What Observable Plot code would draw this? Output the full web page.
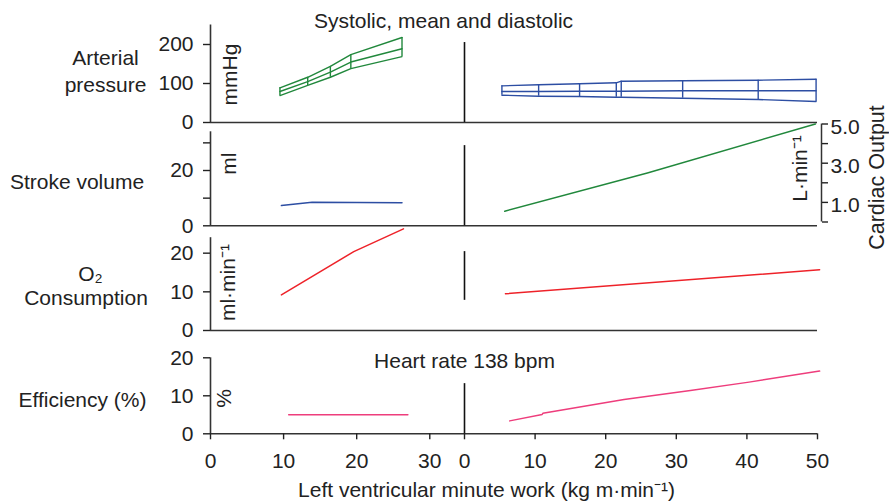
<!DOCTYPE html>
<html><head><meta charset="utf-8">
<script src="https://cdn.jsdelivr.net/npm/d3@7"></script>
<script src="https://cdn.jsdelivr.net/npm/@observablehq/plot@0.6"></script>
<style>
html,body{margin:0;padding:0;background:#fff;}
#chart{position:relative;width:889px;height:501px;overflow:hidden;background:#fff;}
#chart svg{position:absolute;left:0;top:0;}
</style></head><body><div id="chart"></div>
<script>
// ---- data ----
const pressureLeftX    = [9.5, 13.3, 16.4, 19.2, 26.2];
const pressureLeftSys  = [89, 116, 144, 174, 218];
const pressureLeftMean = [79.5, 105, 129, 155, 189];
const pressureLeftDia  = [69, 95, 116, 138, 169];
const pressureRightX    = [5.3, 10.5, 16.3, 21.5, 22.2, 30.9, 41.6, 49.8];
const pressureRightSys  = [94, 96.7, 99.2, 101.8, 105.9, 106.9, 108.5, 111];
const pressureRightMean = [79.5, 79.5, 80.3, 80.3, 80.3, 81.3, 81.3, 81.3];
const pressureRightDia  = [70, 67.4, 66.7, 64.9, 64.9, 62.3, 59, 53.8];
const strokeVolX = [9.7, 13.9, 26.2];
const strokeVol  = [7.3, 8.5, 8.3];
const cardiacOutX = [5.7, 25.9, 49.7];
const cardiacOut  = [0.55, 2.5, 5.0];
const o2LeftX = [9.7, 19.6, 26.4];
const o2Left  = [9.2, 20.4, 26.3];
const o2RightX = [5.8, 50.3];
const o2Right  = [9.5, 15.7];
const effLeftX = [10.7, 27.0];
const effLeft  = [5.0, 5.0];
const effRightX = [6.4, 11.0, 11.1, 22.6, 32.0, 40.3, 50.3];
const effRight  = [3.4, 5.1, 5.4, 9.0, 11.4, 13.6, 16.5];
const xTicksLeft  = [0, 10, 20, 30];
const xTicksRight = [0, 10, 20, 30, 40, 50];
const pressureTicks = [0, 100, 200];
const svTicks = [0, 10, 20, 30];
const svTickLabels = [0, 20];
const o2Ticks = [0, 10, 20];
const effTicks = [0, 10, 20];
const coTicks = [0, 1, 2, 3, 4, 5];
const coTickLabels = [1, 3, 5];
const dividerBottom = [0, 0, 7.8, 0];
const dividerTop = [205, 29, 20.4, 13.2];

// ---- layout ----
const W = 889, H = 501;
const FONT = "'Liberation Sans', Arial, Helvetica, sans-serif";
const GREEN = "#21883c", BLUE = "#2d4ea3", RED = "#ee2229", PINK = "#ee3d7c";
const INK = "#222";
const LEFT = {domain: [0, 34.75], px: [210, 464]};
const RIGHT = {domain: [0, 50], px: [464, 817]};
const P = [
  {domain: [0, 250], px: [122, 24.5]},
  {domain: [0, 34], px: [225.3, 131.3]},
  {domain: [0, 24], px: [330, 237.2]},
  {domain: [0, 20], px: [433.3, 357.3]}
];
const CO = {domain: [0, 5], px: [221.5, 123.5]};

const chart = document.getElementById("chart");
function overlay(xs, ys, marks) {
  const svg = Plot.plot({
    width: W, height: H,
    marginLeft: xs.px[0], marginRight: W - xs.px[1],
    marginTop: ys.px[1], marginBottom: H - ys.px[0],
    x: {domain: xs.domain, axis: null, label: null},
    y: {domain: ys.domain, axis: null, label: null},
    style: {fontFamily: FONT, fontSize: "21px", color: INK, background: "transparent", overflow: "visible"},
    marks
  });
  chart.appendChild(svg);
}
const rows = (xs, cols) => xs.map((x, i) => Object.fromEntries([["x", x], ...Object.entries(cols).map(([k, v]) => [k, v[i]])]));
const pl = rows(pressureLeftX, {sys: pressureLeftSys, mean: pressureLeftMean, dia: pressureLeftDia});
const pr = rows(pressureRightX, {sys: pressureRightSys, mean: pressureRightMean, dia: pressureRightDia});
const base = {stroke: "#333", strokeWidth: 1.6};
const axisStyle = {tickSize: 7, tickPadding: 10, anchor: "left", strokeWidth: 1.4, label: null};
function leftAxis(i, ticks, fmt) {
  return [
    Plot.ruleX([0], {y1: 0, y2: P[i].domain[1], stroke: "#333", strokeWidth: 1.6}),
    Plot.ruleY([0], base),
    Plot.axisY({...axisStyle, ticks, tickFormat: fmt || (d => d)})
  ];
}
function rightBase(i) {
  return [
    Plot.ruleY([0], base),
    Plot.ruleX([0], {y1: dividerBottom[i], y2: dividerTop[i], stroke: "#111", strokeWidth: 1.6})
  ];
}

// Panel 1: arterial pressure
overlay(LEFT, P[0], [
  ...leftAxis(0, pressureTicks),
  ...["sys", "mean", "dia"].map(k => Plot.line(pl, {x: "x", y: k, stroke: GREEN, strokeWidth: 1.4})),
  Plot.ruleX(pl, {x: "x", y1: "dia", y2: "sys", stroke: GREEN, strokeWidth: 1.4}),
  Plot.text(["Arterial\npressure"], {x: 0, y: 135, dx: -105, lineHeight: 1.3}),
  Plot.text(["mmHg"], {x: 0, y: 123, dx: 20, rotate: -90}),
  Plot.text(["Systolic, mean and diastolic"], {x: 0, y: 259, dx: 233})
]);
overlay(RIGHT, P[0], [
  ...rightBase(0),
  ...["sys", "mean", "dia"].map(k => Plot.line(pr, {x: "x", y: k, stroke: BLUE, strokeWidth: 1.4})),
  Plot.ruleX(pr, {x: "x", y1: "dia", y2: "sys", stroke: BLUE, strokeWidth: 1.4})
]);

// Panel 2: stroke volume / cardiac output
overlay(LEFT, P[1], [
  ...leftAxis(1, svTicks, d => svTickLabels.includes(d) ? d : ""),
  Plot.line(rows(strokeVolX, {y: strokeVol}), {x: "x", y: "y", stroke: BLUE}),
  Plot.text(["Stroke volume"], {x: 0, y: 15.7, dx: -133.5}),
  Plot.text(["ml"], {x: 0, y: 22.5, dx: 19, rotate: -90})
]);
overlay(RIGHT, P[1], [
  ...rightBase(1)
]);
overlay(RIGHT, CO, [
  Plot.line(rows(cardiacOutX, {y: cardiacOut}), {x: "x", y: "y", stroke: GREEN})
]);
overlay({domain: [0, 1], px: [464, 821]}, CO, [
  Plot.ruleX([1], {y1: 0, y2: 5, stroke: "#333", strokeWidth: 1.5}),
  Plot.axisY({anchor: "right", ticks: coTicks, tickSize: 6, tickFormat: () => "", strokeWidth: 1.4, label: null}),
  Plot.text(coTickLabels, {x: 1, y: d => d, text: d => d.toFixed(1), dx: 9, dy: 3, textAnchor: "start"}),
  Plot.text(["L·min⁻¹"], {x: 1, y: 2.73, dx: -21, rotate: -90}),
  Plot.text(["Cardiac Output"], {x: 1, y: 2.27, dx: 56, rotate: -90, fontSize: 21.5})
]);

// Panel 3: O2 consumption
overlay(LEFT, P[2], [
  ...leftAxis(2, o2Ticks),
  Plot.line(rows(o2LeftX, {y: o2Left}), {x: "x", y: "y", stroke: RED}),
  Plot.text(["O₂"], {x: 0, y: 14.5, dx: -120}),
  Plot.text(["Consumption"], {x: 0, y: 8.3, dx: -124.5}),
  Plot.text(["ml·min⁻¹"], {x: 0, y: 12.4, dx: 18, rotate: -90})
]);
overlay(RIGHT, P[2], [
  ...rightBase(2),
  Plot.line(rows(o2RightX, {y: o2Right}), {x: "x", y: "y", stroke: RED})
]);

// Panel 4: efficiency
overlay(LEFT, P[3], [
  ...leftAxis(3, effTicks),
  Plot.axisX({ticks: xTicksLeft, tickSize: 6, tickPadding: 13, strokeWidth: 1.4, label: null}),
  Plot.line(rows(effLeftX, {y: effLeft}), {x: "x", y: "y", stroke: PINK}),
  Plot.text(["Efficiency (%)"], {x: 0, y: 8.8, dx: -128}),
  Plot.text(["%"], {x: 0, y: 9.3, dx: 14, rotate: -90})
]);
overlay(RIGHT, P[3], [
  ...rightBase(3),
  Plot.axisX({ticks: xTicksRight, tickSize: 6, tickPadding: 13, strokeWidth: 1.4, label: null}),
  Plot.line(rows(effRightX, {y: effRight}), {x: "x", y: "y", stroke: PINK}),
  Plot.text(["Heart rate 138 bpm"], {x: 0, y: 19}),
  Plot.text(["Left ventricular minute work (kg m·min⁻¹)"], {x: 0, y: -14.9, dx: 22})
]);
</script></body></html>
